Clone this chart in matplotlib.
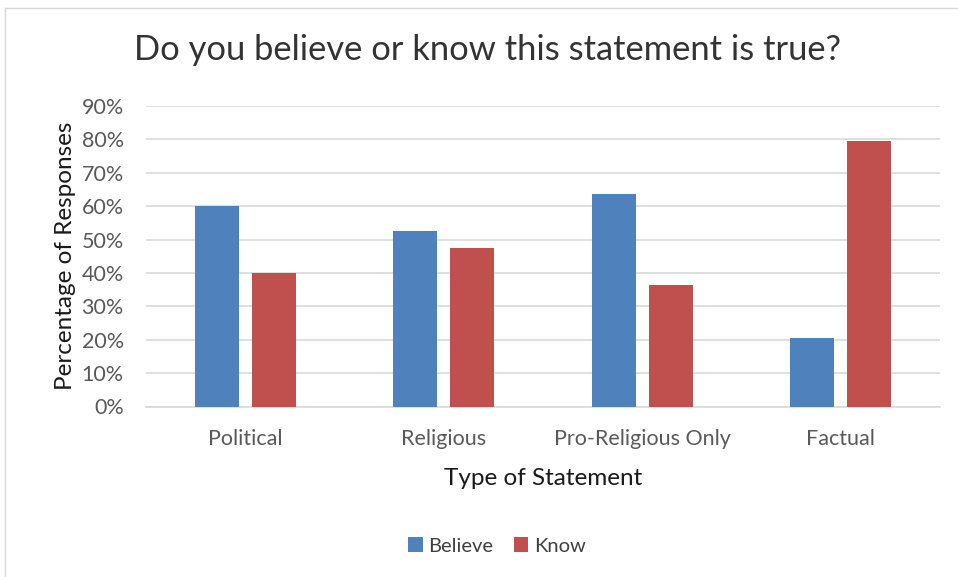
import numpy as np
import matplotlib.pyplot as plt
from matplotlib.lines import Line2D
from matplotlib.ticker import PercentFormatter

CATEGORIES = ['Political', 'Religious', 'Pro-Religious Only', 'Factual']
BELIEVE    = [0.600, 0.526, 0.635, 0.206]
KNOW       = [0.400, 0.474, 0.365, 0.794]
SERIES     = ['Believe', 'Know']
COLORS     = ['#4F81BD', '#C0504D']

plt.rcParams['font.family'] = ['Lato', 'DejaVu Sans']

fig = plt.figure(figsize=(9.58, 5.77), dpi=100)
ax = fig.add_axes([146 / 958, 1 - 406.5 / 577, (940 - 146) / 958, (406.5 - 106) / 577])

x = np.arange(len(CATEGORIES))
w = 0.221
off = 0.143
for vals, off_i, label, color in zip([BELIEVE, KNOW], [-off, off], SERIES, COLORS):
    ax.bar(x + off_i, vals, w, color=color, label=label, zorder=3)

ax.set_xlim(-0.5, len(CATEGORIES) - 0.5)
ax.set_ylim(0, 0.9)
ax.set_yticks(np.arange(0, 0.91, 0.1))
ax.yaxis.set_major_formatter(PercentFormatter(1.0, decimals=0))
ax.yaxis.grid(True, color='#d9d9d9', linewidth=1.2)
ax.set_axisbelow(True)
for s in ['top', 'right', 'left']:
    ax.spines[s].set_visible(False)
ax.spines['bottom'].set_color('#d9d9d9')
ax.spines['bottom'].set_linewidth(1.2)
ax.tick_params(axis='both', length=0, labelsize=15.5, labelcolor='#595959')
ax.tick_params(axis='y', pad=16)
ax.tick_params(axis='x', pad=16)
ax.set_xticks(x)
ax.set_xticklabels(CATEGORIES)

ax.set_xlabel('Type of Statement', fontsize=17.5, color='#1a1a1a', labelpad=14)
ax.set_ylabel('Percentage of Responses', fontsize=17.5, color='#1a1a1a', labelpad=4)
fig.text(487 / 958, 1 - 50 / 577, 'Do you believe or know this statement is true?',
         ha='center', va='center', fontsize=24.8, color='#333333')

ax.legend(loc='center', bbox_to_anchor=(497 / 958, 1 - 546 / 577), bbox_transform=fig.transFigure,
          ncol=2, frameon=False, fontsize=14.5, labelcolor='#404040', handlelength=0.7, handleheight=0.7,
          handletextpad=0.3, columnspacing=1.0)

# chart frame (left and top edges visible)
fig.add_artist(Line2D([5 / 958, 5 / 958], [0, 1 - 8 / 577], transform=fig.transFigure, color='#d9d9d9', lw=1))
fig.add_artist(Line2D([5 / 958, 1], [1 - 8 / 577, 1 - 8 / 577], transform=fig.transFigure, color='#d9d9d9', lw=1))

plt.savefig('out.png', dpi=100)
